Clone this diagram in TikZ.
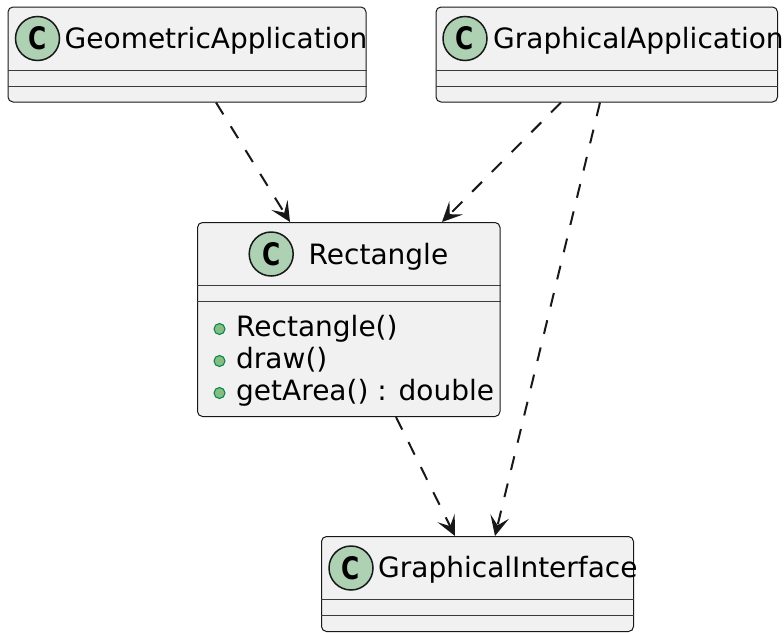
\documentclass[tikz,border=0pt]{standalone}
\usepackage{fontspec}
\setmainfont{DejaVu Sans}
\usepackage{graphicx}
\usetikzlibrary{arrows.meta,calc}
\definecolor{boxfill}{HTML}{F1F1F1}
\definecolor{edgec}{HTML}{181818}
\definecolor{cfill}{HTML}{ADD1B2}
\definecolor{mfill}{HTML}{84BE84}
\definecolor{mline}{HTML}{038048}
\begin{document}
\begin{tikzpicture}[x=1pt,y=-1pt,
  classbox/.style={draw=edgec, fill=boxfill, line width=1pt, rounded corners=5pt, inner sep=0pt},
  sepline/.style={draw=edgec!85, line width=1pt},
  badge/.style={circle, draw=edgec, fill=cfill, line width=1.5pt, minimum size=44pt, inner sep=0pt, font=\fontsize{31}{31}\selectfont\bfseries},
  title/.style={anchor=base west, inner sep=0pt, font=\fontsize{28}{32}\selectfont},
  dotm/.style={circle, draw=mline, fill=mfill, line width=1pt, minimum size=11pt, inner sep=0pt},
  dep/.style={draw=edgec, line width=2pt, dash pattern=on 14pt off 14pt, -{Stealth[length=20pt,width=19pt,inset=9pt]}}
]
\useasboundingbox (0,0) rectangle (784,632);

% GeometricApplication
\node[classbox, minimum width=358pt, minimum height=95pt] (geo) at (187,54.5) {};
\draw[sepline] ($(geo.north west)+(0,63.5)$) -- ($(geo.north east)+(0,63.5)$);
\draw[sepline] ($(geo.north west)+(0,79.5)$) -- ($(geo.north east)+(0,79.5)$);
\node[badge] (geoC) at ($(geo.north west)+(30,32)$) {\scalebox{0.8}[1]{C}};
\node[title] (geoT) at ($(geo.north west)+(57,41.5)$) {GeometricApplication};

% GraphicalApplication
\node[classbox, minimum width=341.5pt, minimum height=95pt] (gra) at (606.75,54.5) {};
\draw[sepline] ($(gra.north west)+(0,63.5)$) -- ($(gra.north east)+(0,63.5)$);
\draw[sepline] ($(gra.north west)+(0,79.5)$) -- ($(gra.north east)+(0,79.5)$);
\node[badge] (graC) at ($(gra.north west)+(29.5,32)$) {\scalebox{0.8}[1]{C}};
\node[title] (graT) at ($(gra.north west)+(57.5,41.5)$) {GraphicalApplication};

% Rectangle
\node[classbox, minimum width=302.5pt, minimum height=194pt] (rect) at (348.75,319.5) {};
\draw[sepline] ($(rect.north west)+(0,63.5)$) -- ($(rect.north east)+(0,63.5)$);
\draw[sepline] ($(rect.north west)+(0,79.5)$) -- ($(rect.north east)+(0,79.5)$);
\node[badge] (rectC) at ($(rect.north west)+(74.2,32)$) {\scalebox{0.8}[1]{C}};
\node[title] (rectT) at ($(rect.north west)+(111.5,42)$) {Rectangle};
\node[dotm] (d1) at ($(rect.north west)+(22.5,107)$) {};
\node[title] (m1) at ($(rect.north west)+(39,114.5)$) {Rectangle()};
\node[dotm] (d2) at ($(rect.north west)+(22.5,139)$) {};
\node[title] (m2) at ($(rect.north west)+(39,146.5)$) {draw()};
\node[dotm] (d3) at ($(rect.north west)+(22.5,171)$) {};
\node[title] (m3) at ($(rect.north west)+(39,178.5)$) {getArea() : double};

% GraphicalInterface
\node[classbox, minimum width=312pt, minimum height=95pt] (gi) at (477.5,584) {};
\draw[sepline] ($(gi.north west)+(0,63.5)$) -- ($(gi.north east)+(0,63.5)$);
\draw[sepline] ($(gi.north west)+(0,79.5)$) -- ($(gi.north east)+(0,79.5)$);
\node[badge] (giC) at ($(gi.north west)+(30,32)$) {\scalebox{0.8}[1]{C}};
\node[title] (giT) at ($(gi.north west)+(57,41.5)$) {GraphicalInterface};

% dependencies
\draw[dep] ([xshift=29pt]geo.south) -- ([xshift=-58.75pt]rect.north);
\draw[dep] ([xshift=-45.75pt]gra.south) -- ([xshift=93.25pt]rect.north);
\draw[dep] ([xshift=-6.75pt]gra.south) -- ([xshift=17.5pt]gi.north);
\draw[dep] ([xshift=47.25pt]rect.south) -- ([xshift=-22.5pt]gi.north);
\end{tikzpicture}
\end{document}
